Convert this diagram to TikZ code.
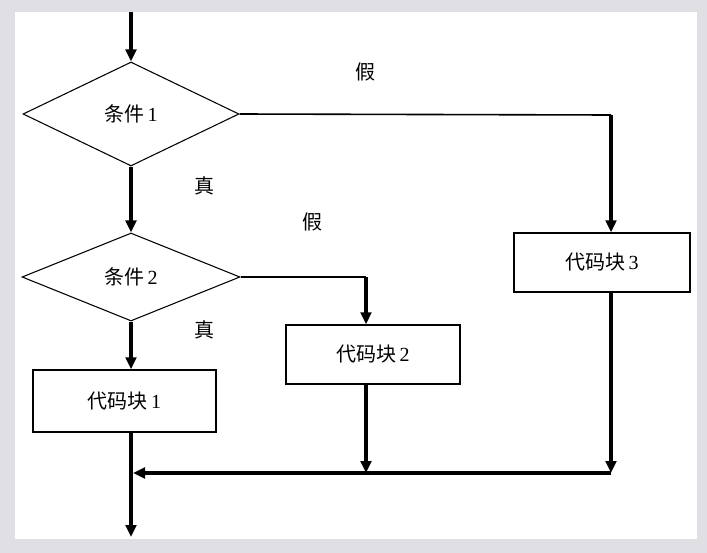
\documentclass[tikz,border=0pt]{standalone}
\usepackage{fontspec}
\setmainfont{Liberation Serif}
\newfontfamily\cjk{Noto Sans CJK SC}
\usetikzlibrary{shapes.geometric,arrows.meta,calc}
\definecolor{pagegray}{RGB}{223,223,228}
\tikzset{
  cond/.style={diamond,draw,line width=0.8pt,inner sep=0pt,font=\fontsize{15}{17}\selectfont},
  block/.style={rectangle,draw,line width=1pt,inner sep=0pt,font=\fontsize{15}{17}\selectfont},
  flow/.style={line width=2.6pt,-{Triangle[length=9pt,width=8pt]}},
  branch/.style={line width=1.2pt},
  tag/.style={font=\cjk\fontsize{15}{17}\selectfont,inner sep=0pt}
}
\begin{document}
\begin{tikzpicture}[x=0.75pt,y=-0.75pt]
  % page and sheet
  \fill[pagegray] (0,0) rectangle (707,553);
  \fill[white] (15,12) rectangle (697,539);
  \useasboundingbox (0,0) rectangle (707,553);

  % decisions and code blocks
  \node[cond,minimum width=216*0.75pt,minimum height=104*0.75pt] (c1) at (131,114) {{\cjk 条件}\,1};
  \node[cond,minimum width=218*0.75pt,minimum height=88*0.75pt] (c2) at (131,277) {{\cjk 条件}\,2};
  \node[block,minimum width=183*0.75pt,minimum height=62*0.75pt] (b1) at (124.5,401) {{\cjk 代码块}\,1};
  \node[block,minimum width=174*0.75pt,minimum height=59*0.75pt] (b2) at (373,354.5) {{\cjk 代码块}\,2};
  \node[block,minimum width=176*0.75pt,minimum height=59*0.75pt] (b3) at (602,262.5) {{\cjk 代码块}\,3};

  % branch labels
  \node[tag] (f1) at (365,72) {假};
  \node[tag] (t1) at (204,186) {真};
  \node[tag] (f2) at (312,222) {假};
  \node[tag] (t2) at (204,330) {真};

  % free ends and corners
  \coordinate (in) at (131,12);
  \coordinate (out) at (131,537);
  \coordinate (k3) at (611,115);
  \coordinate (k2) at (366,277);
  \coordinate (m3) at (611,473);
  \coordinate (m2) at (366,473);
  \coordinate (mj) at (131,473);

  % main trunk
  \draw[flow] (in) -- (c1.north);
  \draw[flow] (c1.south) -- (c2.north);
  \draw[flow] (c2.south) -- (b1.north -| in);
  \draw[flow] (b1.south -| in) -- (out);

  % false branches
  \draw[branch] (c1.east) -- (k3);
  \draw[flow] (k3) -- (k3 |- b3.north);
  \draw[branch] (c2.east) -- (k2);
  \draw[flow] (k2) -- (k2 |- b2.north);

  % merge back into the trunk
  \draw[flow] (k3 |- b3.south) -- (m3);
  \draw[flow] (k2 |- b2.south) -- (m2);
  \draw[line width=2.4pt,-{Triangle[length=9pt,width=8pt]}] (m3) -- ($(mj)+(2,0)$);
\end{tikzpicture}
\end{document}
